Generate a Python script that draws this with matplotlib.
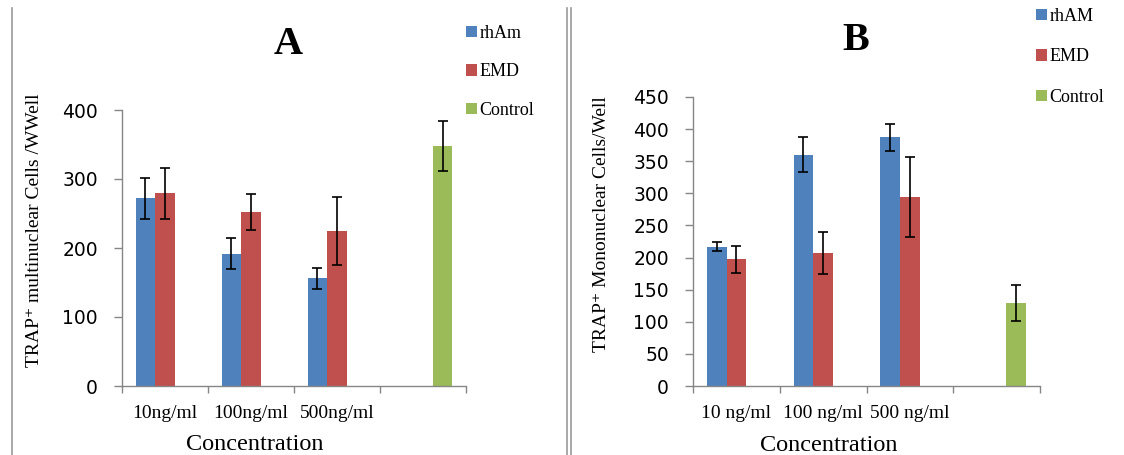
import numpy as np
import matplotlib
matplotlib.use("Agg")
import matplotlib.pyplot as plt
from matplotlib.lines import Line2D

# ---------------- data ----------------
cats_a = ["10ng/ml", "100ng/ml", "500ng/ml", ""]
rham_a = [272, 192, 156, np.nan]
rham_a_err = [30, 22, 15, np.nan]
emd_a = [279, 252, 225, np.nan]
emd_a_err = [37, 26, 49, np.nan]
ctrl_a = [np.nan, np.nan, np.nan, 348]
ctrl_a_err = [np.nan, np.nan, np.nan, 36]

cats_b = ["10 ng/ml", "100 ng/ml", "500 ng/ml", ""]
rham_b = [217, 360, 387, np.nan]
rham_b_err = [6.5, 27, 21, np.nan]
emd_b = [197, 207, 294, np.nan]
emd_b_err = [21, 33, 62, np.nan]
ctrl_b = [np.nan, np.nan, np.nan, 129]
ctrl_b_err = [np.nan, np.nan, np.nan, 28]

labels_a = ["rhAm", "EMD", "Control"]
labels_b = ["rhAM", "EMD", "Control"]
yticks_a = [0, 100, 200, 300, 400]
yticks_b = [0, 50, 100, 150, 200, 250, 300, 350, 400, 450]

colors = ["#4F81BD", "#C0504D", "#9BBB59"]
SERIF = ["Liberation Serif", "DejaVu Serif"]
SANS = "DejaVu Sans"
W, H = 1124, 455

fig = plt.figure(figsize=(W / 100, H / 100), dpi=100)


def fx(px):
    return px / W


def fy(py):
    return 1 - py / H


def panel(rect, cats, series, errs, labels, yticks, ylabel, title, title_xy,
          ylab_coords, xlab_coords, leg_xy, leg_spacing):
    ax = fig.add_axes(rect)
    n = len(cats)
    centers = np.arange(n) + 0.5
    bw = 0.227
    offs = [-bw, 0, bw]
    handles = []
    for vals, err, col, off, lab in zip(series, errs, colors, offs, labels):
        b = ax.bar(centers + off, vals, width=bw, color=col, label=lab,
                   yerr=err, error_kw=dict(ecolor="black", elinewidth=1.2,
                                           capsize=3.4, capthick=1.2),
                   zorder=2)
        handles.append(b)
    ax.set_xlim(0, n)
    ax.set_ylim(yticks[0], yticks[-1])
    ax.set_xticks(np.arange(n + 1))
    ax.set_xticklabels([])
    ax.set_xticks(centers, minor=True)
    ax.set_xticklabels(cats, minor=True, fontfamily=SERIF, fontsize=14)
    ax.tick_params(axis="x", which="major", length=5, width=1, color="#868686",
                   direction="out")
    ax.tick_params(axis="x", which="minor", length=0, pad=14)
    ax.set_yticks(yticks)
    ax.set_yticklabels([str(t) for t in yticks], fontfamily=SANS, fontsize=13.5)
    ax.tick_params(axis="y", length=5.8, width=1, color="#868686", pad=11.5,
                   direction="out")
    for s in ["top", "right"]:
        ax.spines[s].set_visible(False)
    for s in ["left", "bottom"]:
        ax.spines[s].set_color("#868686")
        ax.spines[s].set_linewidth(1)
    ax.set_ylabel(ylabel, fontfamily=SERIF, fontsize=14)
    ax.yaxis.set_label_coords(*ylab_coords)
    ax.set_xlabel("Concentration", fontfamily=SERIF, fontsize=17.5)
    ax.xaxis.set_label_coords(*xlab_coords)
    fig.text(fx(title_xy[0]), fy(title_xy[1]), title, fontfamily=SERIF,
             fontsize=29, fontweight="bold", ha="center", va="center")
    ax.legend(handles=handles, loc="upper left",
              bbox_to_anchor=(fx(leg_xy[0]), fy(leg_xy[1])),
              bbox_transform=fig.transFigure, frameon=False, borderpad=0,
              borderaxespad=0, handlelength=0.6, handleheight=0.6,
              handletextpad=0.15, labelspacing=leg_spacing,
              prop=dict(family=SERIF, size=13))
    return ax


# Panel A
ax_a = panel([fx(122), fy(386), fx(466 - 122), (386 - 110) / H], cats_a,
             [rham_a, emd_a, ctrl_a], [rham_a_err, emd_a_err, ctrl_a_err],
             labels_a, yticks_a, "TRAP\u207a multinuclear Cells /WWell", "A",
             (288, 45), (-0.23, 0.565), (0.385, -0.175), (466, 25), 1.18)

# Panel B
ax_b = panel([fx(693), fy(386), fx(1040 - 693), (386 - 97) / H], cats_b,
             [rham_b, emd_b, ctrl_b], [rham_b_err, emd_b_err, ctrl_b_err],
             labels_b, yticks_b, "TRAP\u207a Mononuclear Cells/Well", "B",
             (856, 40), (-0.239, 0.56), (0.39, -0.168), (1036, 8), 1.3)

# separator lines
for x in [12, 567, 571]:
    fig.add_artist(Line2D([fx(x), fx(x)], [fy(8), 0], transform=fig.transFigure,
                          color="#9a9a9a", lw=1.2))

fig.savefig("out.png", dpi=100)
